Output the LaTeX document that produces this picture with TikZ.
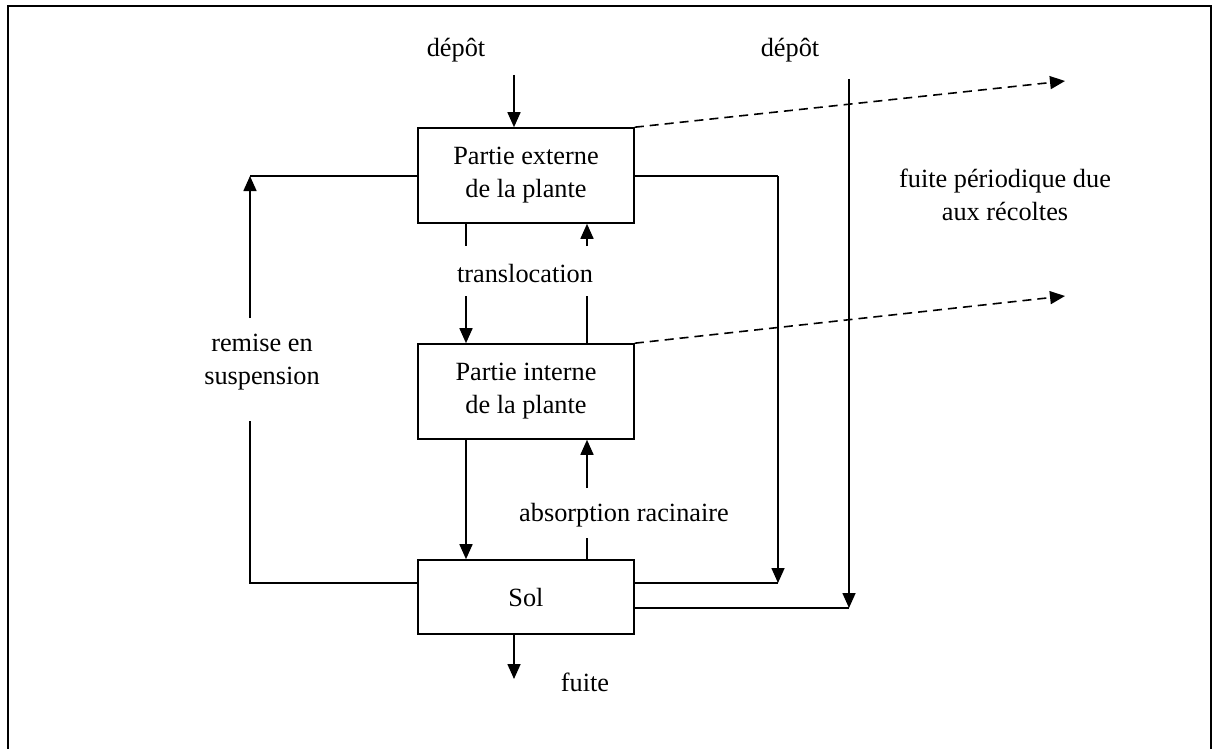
\documentclass[tikz,border=0pt]{standalone}
\usepackage{fontspec}
\setmainfont{Liberation Serif}
\usetikzlibrary{arrows.meta}
\begin{document}
\begin{tikzpicture}[x=1pt,y=-1pt,
  line width=1.6pt,
  every node/.style={font=\fontsize{26.3}{33}\selectfont, align=center, inner sep=0pt},
  compart/.style={draw, rectangle, minimum width=216pt, minimum height=95pt},
  flow/.style={-{Triangle[length=15pt,width=13pt]}},
  harvest/.style={flow, dashed, dash pattern=on 9pt off 6pt}]
  \useasboundingbox (0,0) rectangle (1212,749);
  % outer frame (bottom edge lies below the page)
  \draw[line width=2pt] (8,6) rectangle (1210.5,770);

  % compartments
  \node[compart] (ext) at (526,175.5) {Partie externe\\de la plante};
  \node[compart] (int) at (526,391.5) {Partie interne\\de la plante};
  \node[compart, minimum height=74pt] (sol) at (526,597) {Sol};

  % labels
  \node (dep1) at (456,50) {dépôt};
  \node (dep2) at (790,50) {dépôt};
  \node (trans) at (525,274) {translocation};
  \node (absr) at (624,515) {absorption racinaire};
  \node (remise) at (262,362) {remise en\\suspension};
  \node (fuite) at (585,682) {fuite};
  \node (harv) at (1005,195) {fuite périodique due\\aux récoltes};

  % helper points
  \coordinate (dtop) at (514,75);
  \coordinate (ul) at (250,176);
  \coordinate (ulb) at (250,318);
  \coordinate (llt) at (250,421);
  \coordinate (ll) at (250,583);
  \coordinate (ur) at (778,176);
  \coordinate (lr) at (778,583);
  \coordinate (frt) at (849,79);
  \coordinate (frb) at (849,608);
  \coordinate (h1) at (1065,81);
  \coordinate (h2) at (1065,296);

  % deposition onto the plant
  \draw[flow] (dtop) -- (ext.north -| dtop);

  % resuspension loop on the left
  \draw (ext.west |- ul) -- (ul);
  \draw[flow] (ulb) -- (ul);
  \draw (llt) -- (ll) -- (sol.west |- ll);

  % wash-off from the external part to the soil
  \draw (ext.east |- ur) -- (ur);
  \draw[flow] (ur) -- (lr);
  \draw (lr) -- (sol.east |- lr);

  % direct deposition on the soil
  \draw[flow] (frt) -- (frb);
  \draw (sol.east |- frb) -- (frb);

  % harvest losses
  \draw[harvest] (ext.north east) -- (h1);
  \draw[harvest] (int.north east) -- (h2);

  % translocation
  \draw (466,223) -- (466,246);
  \draw[flow] (466,296) -- (int.north -| 466,0);
  \draw (587,344) -- (587,296);
  \draw[flow] (587,246) -- (ext.south -| 587,0);

  % internal part to soil and root uptake
  \draw[flow] (int.south -| 466,0) -- (sol.north -| 466,0);
  \draw (sol.north -| 587,0) -- (587,538);
  \draw[flow] (587,488) -- (int.south -| 587,0);

  % leaching
  \draw[flow] (sol.south -| 514,0) -- (514,679);
\end{tikzpicture}
\end{document}
